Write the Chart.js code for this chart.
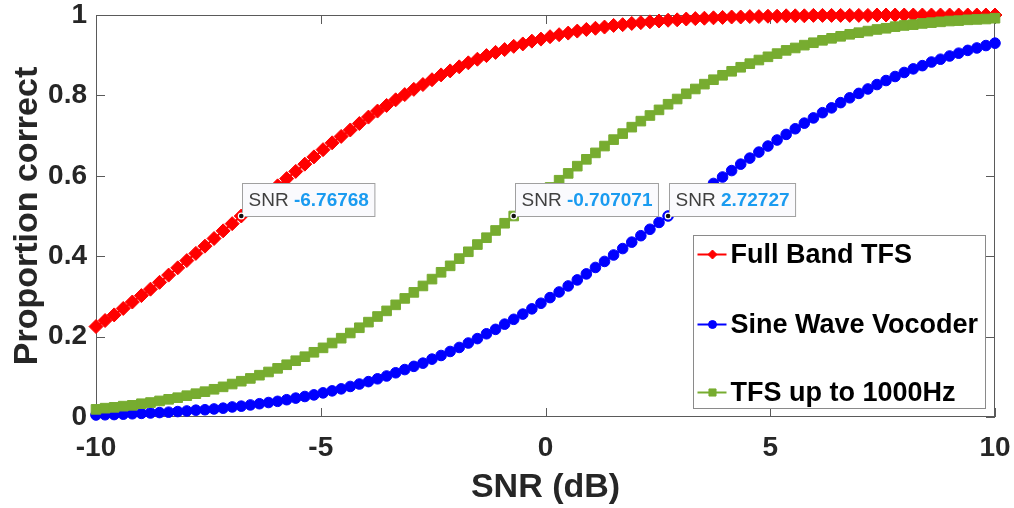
<!DOCTYPE html>
<html>
<head>
<meta charset="utf-8">
<script src="https://cdn.jsdelivr.net/npm/chart.js@4.4.0/dist/chart.umd.min.js"></script>
<style>
html, body { margin: 0; padding: 0; background: #fff; }
#wrap { width: 1014px; height: 508px; }
</style>
</head>
<body>
<div id="wrap"><canvas id="c" width="1014" height="508"></canvas></div>
<script>
// SNR (dB) の刻み
const snr = [
  -10.000, -9.798, -9.596, -9.394, -9.192, -8.990, -8.788, -8.586, -8.384, -8.182,
  -7.980, -7.778, -7.576, -7.374, -7.172, -6.970, -6.768, -6.566, -6.364, -6.162,
  -5.960, -5.758, -5.556, -5.354, -5.152, -4.949, -4.747, -4.545, -4.343, -4.141,
  -3.939, -3.737, -3.535, -3.333, -3.131, -2.929, -2.727, -2.525, -2.323, -2.121,
  -1.919, -1.717, -1.515, -1.313, -1.111, -0.909, -0.707, -0.505, -0.303, -0.101,
  0.101, 0.303, 0.505, 0.707, 0.909, 1.111, 1.313, 1.515, 1.717, 1.919,
  2.121, 2.323, 2.525, 2.727, 2.929, 3.131, 3.333, 3.535, 3.737, 3.939,
  4.141, 4.343, 4.545, 4.747, 4.949, 5.152, 5.354, 5.556, 5.758, 5.960,
  6.162, 6.364, 6.566, 6.768, 6.970, 7.172, 7.374, 7.576, 7.778, 7.980,
  8.182, 8.384, 8.586, 8.788, 8.990, 9.192, 9.394, 9.596, 9.798, 10.000
];

const fullBandTFS = [
  0.225, 0.240, 0.254, 0.270, 0.286, 0.302, 0.318, 0.335, 0.353, 0.371,
  0.389, 0.407, 0.425, 0.444, 0.463, 0.481, 0.500, 0.519, 0.537, 0.556,
  0.575, 0.593, 0.611, 0.629, 0.647, 0.665, 0.682, 0.698, 0.714, 0.730,
  0.746, 0.761, 0.775, 0.789, 0.802, 0.815, 0.827, 0.839, 0.851, 0.861,
  0.871, 0.881, 0.890, 0.899, 0.907, 0.914, 0.922, 0.928, 0.935, 0.940,
  0.946, 0.951, 0.955, 0.960, 0.964, 0.967, 0.970, 0.974, 0.976, 0.979,
  0.981, 0.983, 0.985, 0.987, 0.988, 0.990, 0.991, 0.992, 0.993, 0.994,
  0.995, 0.995, 0.996, 0.996, 0.997, 0.997, 0.998, 0.998, 0.998, 0.999,
  0.999, 0.999, 0.999, 0.999, 0.999, 0.999, 1.000, 1.000, 1.000, 1.000,
  1.000, 1.000, 1.000, 1.000, 1.000, 1.000, 1.000, 1.000, 1.000, 1.000
];

const sineWaveVocoder = [
  0.005, 0.0055, 0.006, 0.007, 0.008, 0.009, 0.010, 0.011, 0.012, 0.0135,
  0.015, 0.017, 0.018, 0.020, 0.022, 0.025, 0.027, 0.030, 0.033, 0.036,
  0.039, 0.043, 0.047, 0.051, 0.055, 0.060, 0.065, 0.070, 0.076, 0.082,
  0.088, 0.095, 0.102, 0.110, 0.118, 0.126, 0.134, 0.144, 0.153, 0.163,
  0.173, 0.184, 0.195, 0.207, 0.218, 0.231, 0.243, 0.256, 0.269, 0.283,
  0.297, 0.311, 0.326, 0.341, 0.356, 0.372, 0.387, 0.403, 0.419, 0.435,
  0.451, 0.467, 0.484, 0.500, 0.516, 0.533, 0.549, 0.565, 0.581, 0.597,
  0.613, 0.629, 0.644, 0.659, 0.674, 0.689, 0.703, 0.717, 0.731, 0.744,
  0.757, 0.769, 0.782, 0.794, 0.805, 0.816, 0.827, 0.837, 0.847, 0.857,
  0.866, 0.874, 0.883, 0.890, 0.898, 0.905, 0.912, 0.918, 0.924, 0.930
];

const tfsUpTo1000 = [
  0.019, 0.022, 0.024, 0.027, 0.029, 0.033, 0.036, 0.040, 0.044, 0.048,
  0.053, 0.058, 0.063, 0.069, 0.075, 0.082, 0.089, 0.096, 0.104, 0.112,
  0.121, 0.130, 0.140, 0.150, 0.161, 0.172, 0.184, 0.196, 0.209, 0.222,
  0.236, 0.250, 0.264, 0.279, 0.295, 0.310, 0.326, 0.343, 0.360, 0.376,
  0.394, 0.411, 0.429, 0.446, 0.464, 0.482, 0.500, 0.518, 0.536, 0.554,
  0.571, 0.589, 0.606, 0.624, 0.641, 0.657, 0.674, 0.690, 0.705, 0.721,
  0.736, 0.750, 0.764, 0.778, 0.791, 0.804, 0.816, 0.828, 0.839, 0.850,
  0.860, 0.870, 0.879, 0.888, 0.896, 0.904, 0.912, 0.918, 0.925, 0.931,
  0.937, 0.942, 0.947, 0.952, 0.956, 0.960, 0.964, 0.967, 0.971, 0.974,
  0.976, 0.979, 0.981, 0.983, 0.985, 0.986, 0.988, 0.989, 0.990, 0.992
];

const seriesNames = ['Full Band TFS', 'Sine Wave Vocoder', 'TFS up to 1000Hz'];
const seriesColors = ['#ff0000', '#0000ff', '#77ac30'];

// データチップ（系列番号, 点番号, 表示値）
const tipSeries = [0, 2, 1];
const tipIndex = [16, 46, 63];
const tipText = ['-6.76768', '-0.707071', '2.72727'];

const FONT = '"Liberation Sans", Arial, Helvetica, sans-serif';
const TICK_LEN = 9;

const toPoints = vals => vals.map((v, i) => ({ x: snr[i], y: v }));

// 枠と内向きの目盛り
const framePlugin = {
  id: 'frame',
  beforeDatasetsDraw(chart) {
    const { ctx, chartArea: a, scales } = chart;
    ctx.save();
    ctx.strokeStyle = '#5a5a5a';
    ctx.lineWidth = 1;
    ctx.strokeRect(a.left + 0.5, a.top + 0.5, a.right - a.left - 1, a.bottom - a.top - 1);
    ctx.beginPath();
    scales.x.ticks.forEach(t => {
      const px = Math.round(scales.x.getPixelForValue(t.value)) + 0.5;
      ctx.moveTo(px, a.bottom); ctx.lineTo(px, a.bottom - TICK_LEN);
      ctx.moveTo(px, a.top); ctx.lineTo(px, a.top + TICK_LEN);
    });
    scales.y.ticks.forEach(t => {
      const py = Math.round(scales.y.getPixelForValue(t.value)) + 0.5;
      ctx.moveTo(a.left, py); ctx.lineTo(a.left + TICK_LEN, py);
      ctx.moveTo(a.right, py); ctx.lineTo(a.right - TICK_LEN, py);
    });
    ctx.stroke();
    ctx.restore();
  }
};

// データチップと凡例
const overlayPlugin = {
  id: 'overlay',
  afterDraw(chart) {
    const { ctx, chartArea: a, scales } = chart;
    ctx.save();

    tipSeries.forEach((s, k) => {
      const vals = chart.data.datasets[s].data;
      const pt = vals[tipIndex[k]];
      const px = scales.x.getPixelForValue(pt.x);
      const py = scales.y.getPixelForValue(pt.y);
      ctx.font = '19px ' + FONT;
      const w1 = ctx.measureText('SNR ').width;
      ctx.font = 'bold 19px ' + FONT;
      const w2 = ctx.measureText(tipText[k]).width;
      const bw = w1 + w2 + 12, bh = 33;
      const bx = Math.round(px) + 1.5, by = Math.round(py) - bh + 0.5;
      ctx.fillStyle = '#fafafd';
      ctx.strokeStyle = '#a0a0a0';
      ctx.lineWidth = 1;
      ctx.fillRect(bx, by, bw, bh);
      ctx.strokeRect(bx, by, bw, bh);
      ctx.textBaseline = 'middle';
      ctx.textAlign = 'left';
      ctx.font = '19px ' + FONT;
      ctx.fillStyle = '#404040';
      ctx.fillText('SNR ', bx + 6, by + bh / 2 + 1);
      ctx.font = 'bold 19px ' + FONT;
      ctx.fillStyle = '#1a9bf0';
      ctx.fillText(tipText[k], bx + 6 + w1, by + bh / 2 + 1);
      ctx.beginPath();
      ctx.arc(px, py, 3.5, 0, Math.PI * 2);
      ctx.fillStyle = '#fff';
      ctx.fill();
      ctx.beginPath();
      ctx.arc(px, py, 2.3, 0, Math.PI * 2);
      ctx.fillStyle = '#111';
      ctx.fill();
    });

    // 凡例
    const lw = 292, lh = 173;
    const lx = a.right - 10 - lw + 0.5, ly = a.bottom - 9 - lh + 0.5;
    ctx.fillStyle = '#fff';
    ctx.strokeStyle = '#8a8a8a';
    ctx.lineWidth = 1;
    ctx.fillRect(lx, ly, lw, lh);
    ctx.strokeRect(lx, ly, lw, lh);
    const rowY = [19, 89, 157];
    const legendRadius = [4.5, 4, 5];
    chart.data.datasets.forEach((ds, i) => {
      const cy = ly + rowY[i];
      ctx.strokeStyle = ds.borderColor;
      ctx.lineWidth = 2;
      ctx.beginPath();
      ctx.moveTo(lx + 4, cy);
      ctx.lineTo(lx + 33, cy);
      ctx.stroke();
      ctx.fillStyle = ds.borderColor;
      ctx.lineWidth = 1;
      Chart.helpers.drawPoint(ctx, { pointStyle: ds.pointStyle, radius: legendRadius[i], rotation: 0, borderWidth: 1 }, lx + 19, cy);
      ctx.fillStyle = '#000';
      ctx.font = 'bold 27px ' + FONT;
      ctx.textBaseline = 'middle';
      ctx.textAlign = 'left';
      ctx.fillText(ds.label, lx + 37, cy + 1);
    });
    ctx.restore();
  }
};

const pointStyles = ['rectRot', 'circle', 'rect'];
const pointRadii = [7, 5.3, 6.8];
const seriesData = [fullBandTFS, sineWaveVocoder, tfsUpTo1000];

const datasets = seriesData.map((vals, i) => ({
  label: seriesNames[i],
  data: toPoints(vals),
  borderColor: seriesColors[i],
  backgroundColor: seriesColors[i],
  borderWidth: 2,
  pointStyle: pointStyles[i],
  pointRadius: pointRadii[i],
  pointBorderWidth: 1,
  pointHoverRadius: pointRadii[i],
  tension: 0,
  clip: false,
  order: 3 - i
}));

new Chart(document.getElementById('c'), {
  type: 'line',
  data: { datasets },
  options: {
    responsive: false,
    animation: false,
    devicePixelRatio: 1,
    layout: { padding: { top: 15, right: 19, left: 0, bottom: 0 } },
    plugins: { legend: { display: false }, tooltip: { enabled: false } },
    events: [],
    scales: {
      x: {
        type: 'linear',
        min: -10,
        max: 10,
        grid: { display: false, drawTicks: false },
        border: { display: false },
        ticks: {
          stepSize: 5,
          padding: 14,
          color: '#262626',
          font: { family: FONT, size: 28, weight: 'bold' }
        },
        title: {
          display: true,
          text: 'SNR (dB)',
          color: '#262626',
          padding: { top: 0, bottom: 0 },
          font: { family: FONT, size: 34, weight: 'bold' }
        },
        afterFit: s => { s.height = 91; s.paddingLeft = 0; s.paddingRight = 0; }
      },
      y: {
        min: 0,
        max: 1,
        grid: { display: false, drawTicks: false },
        border: { display: false },
        ticks: {
          stepSize: 0.2,
          padding: 9,
          color: '#262626',
          font: { family: FONT, size: 28, weight: 'bold' },
          callback: v => String(Number(v.toFixed(1)))
        },
        title: {
          display: true,
          text: 'Proportion correct',
          color: '#262626',
          padding: { top: 7, bottom: 0 },
          font: { family: FONT, size: 34, weight: 'bold' }
        },
        afterFit: s => { s.width = 96; s.paddingTop = 0; s.paddingBottom = 0; }
      }
    }
  },
  plugins: [framePlugin, overlayPlugin]
});
</script>
</body>
</html>
